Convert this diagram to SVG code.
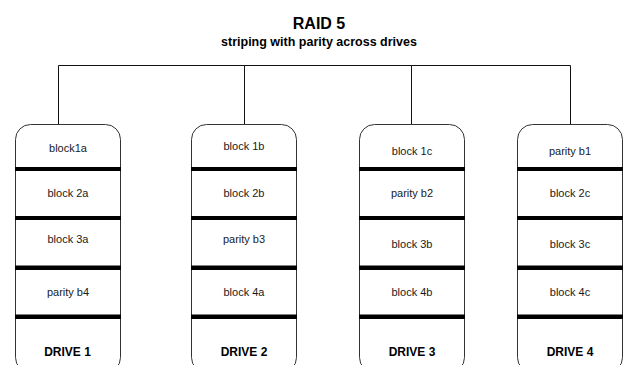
<svg xmlns="http://www.w3.org/2000/svg" width="627" height="365" viewBox="0 0 627 365">
  <style>
    .title { font-family: "Liberation Sans", Arial, sans-serif; font-weight: bold; fill: #000; text-anchor: middle; }
    .drive { fill: #fff; stroke: #333; stroke-width: 1; }
    .bar { fill: #000; }
    .cell { font-family: "Liberation Sans", Arial, sans-serif; font-size: 11px; fill: #1a1a1a; text-anchor: middle; }
    .label { font-family: "Liberation Sans", Arial, sans-serif; font-size: 12px; font-weight: bold; fill: #000; text-anchor: middle; }
    .wire { fill: none; stroke: #111; stroke-width: 1; }
  </style>
  <rect width="627" height="365" fill="#fff"/>

  <text class="title" x="319" y="28.5" font-size="16">RAID 5</text>
  <text class="title" x="319" y="45.5" font-size="12.5">striping with parity across drives</text>

  <!-- bus linking the array to each drive -->
  <g id="connectors">
    <path class="wire" d="M58.5,65.5 H570.5"/>
    <path class="wire" d="M58.5,65.5 V124.5"/>
    <path class="wire" d="M244.5,65.5 V124.5"/>
    <path class="wire" d="M411.5,65.5 V124.5"/>
    <path class="wire" d="M570.5,65.5 V124.5"/>
  </g>

  <g id="drive1">
    <rect class="drive" x="15.5" y="124.5" width="105" height="248" rx="15"/>
    <rect class="bar" x="15" y="167" width="106" height="4"/>
    <rect class="bar" x="15" y="216" width="106" height="4"/>
    <rect class="bar" x="15" y="265.5" width="106" height="4.5"/>
    <rect class="bar" x="15" y="314.5" width="106" height="4.5"/>
    <text class="cell" x="68" y="152.3">block1a</text>
    <text class="cell" x="68" y="197">block 2a</text>
    <text class="cell" x="68" y="243.3">block 3a</text>
    <text class="cell" x="68" y="295.5">parity b4</text>
    <text class="label" x="67.5" y="355.5">DRIVE 1</text>
  </g>

  <g id="drive2">
    <rect class="drive" x="191.5" y="124.5" width="105" height="248" rx="15"/>
    <rect class="bar" x="191" y="167" width="106" height="4"/>
    <rect class="bar" x="191" y="216" width="106" height="4"/>
    <rect class="bar" x="191" y="265.5" width="106" height="4.5"/>
    <rect class="bar" x="191" y="314.5" width="106" height="4.5"/>
    <text class="cell" x="244" y="149.5">block 1b</text>
    <text class="cell" x="244" y="197">block 2b</text>
    <text class="cell" x="244" y="243.3">parity b3</text>
    <text class="cell" x="244" y="295.5">block 4a</text>
    <text class="label" x="244" y="355.5">DRIVE 2</text>
  </g>

  <g id="drive3">
    <rect class="drive" x="359.5" y="124.5" width="105" height="248" rx="15"/>
    <rect class="bar" x="359" y="167" width="106" height="4"/>
    <rect class="bar" x="359" y="216" width="106" height="4"/>
    <rect class="bar" x="359" y="265.5" width="106" height="4.5"/>
    <rect class="bar" x="359" y="314.5" width="106" height="4.5"/>
    <text class="cell" x="412" y="155">block 1c</text>
    <text class="cell" x="412" y="197">parity b2</text>
    <text class="cell" x="412" y="248.3">block 3b</text>
    <text class="cell" x="412" y="295.5">block 4b</text>
    <text class="label" x="412" y="355.5">DRIVE 3</text>
  </g>

  <g id="drive4">
    <rect class="drive" x="517.5" y="124.5" width="105" height="248" rx="15"/>
    <rect class="bar" x="517" y="167" width="106" height="4"/>
    <rect class="bar" x="517" y="216" width="106" height="4"/>
    <rect class="bar" x="517" y="265.5" width="106" height="4.5"/>
    <rect class="bar" x="517" y="314.5" width="106" height="4.5"/>
    <text class="cell" x="570" y="155">parity b1</text>
    <text class="cell" x="570" y="197">block 2c</text>
    <text class="cell" x="570" y="248.3">block 3c</text>
    <text class="cell" x="570" y="295.5">block 4c</text>
    <text class="label" x="570" y="355.5">DRIVE 4</text>
  </g>
</svg>
